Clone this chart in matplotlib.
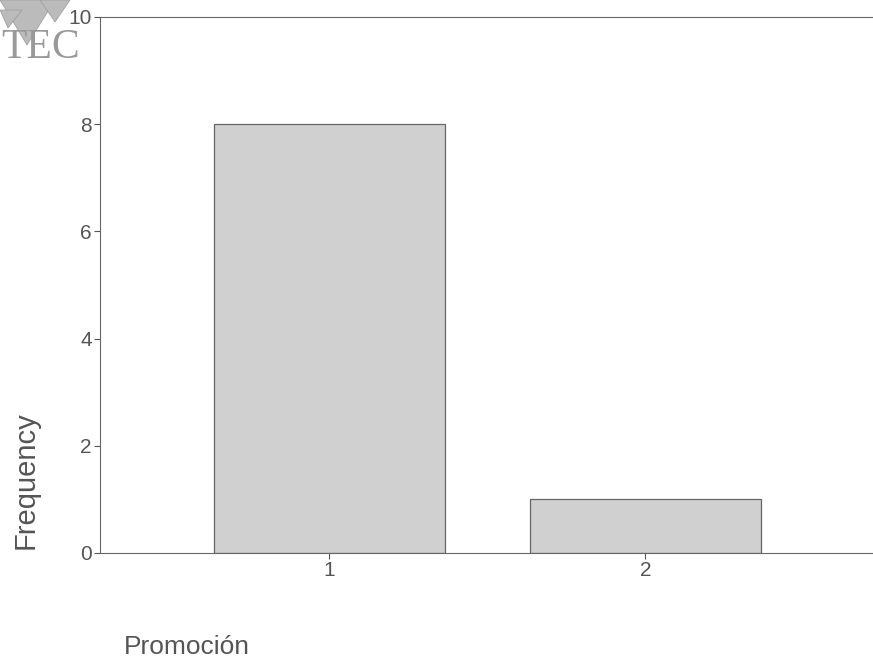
import matplotlib
matplotlib.use('Agg')
import matplotlib.pyplot as plt
from matplotlib.patches import Polygon

categories = ['1', '2']
frequencies = [8, 1]
y_ticks = [0, 2, 4, 6, 8, 10]

plt.rcParams['font.family'] = ['Liberation Sans', 'DejaVu Sans']

fig = plt.figure(figsize=(8.73, 6.66), dpi=100)
ax = fig.add_axes([100/873, 1 - 553/666, 773/873, (553 - 17)/666])

x = [1, 2]
ax.bar(x, frequencies, width=0.73, color='#d0d0d0', edgecolor='#666666', linewidth=0.9)

ax.set_xlim(0.275, 2.72)
ax.set_ylim(0, 10)
ax.set_xticks(x)
ax.set_xticklabels(categories)
ax.set_yticks(y_ticks)
ax.tick_params(colors='#555555', labelcolor='#555555', labelsize=15, length=4,
               width=0.8, pad=2)

for side in ['left', 'bottom', 'top']:
    ax.spines[side].set_color('#666666')
    ax.spines[side].set_linewidth(0.8)
ax.spines['right'].set_visible(False)

fig.text(26/873, 1 - 480/666, 'Frequency', rotation=90, ha='center', va='center',
         fontsize=21, color='#555555')
fig.text(124/873, 1 - 647/666, 'Promoción', ha='left', va='center',
         fontsize=19, color='#555555')

# logo remnant in the corner of the scan
for pts in ([(0, 0), (55, 0), (27, 45)], [(40, 0), (70, 0), (55, 22)],
            [(0, 10), (22, 10), (8, 28)]):
    fig.patches.append(Polygon([(px/873, 1 - py/666) for px, py in pts],
                               closed=True, transform=fig.transFigure,
                               facecolor='#bbbbbb', edgecolor='#999999', lw=0.5))
fig.text(0.002, 1 - 48/666, 'TEC', ha='left', va='center', fontsize=30,
         family=['Liberation Serif', 'DejaVu Serif'], color='#999999')

fig.savefig('out.png', dpi=100)
